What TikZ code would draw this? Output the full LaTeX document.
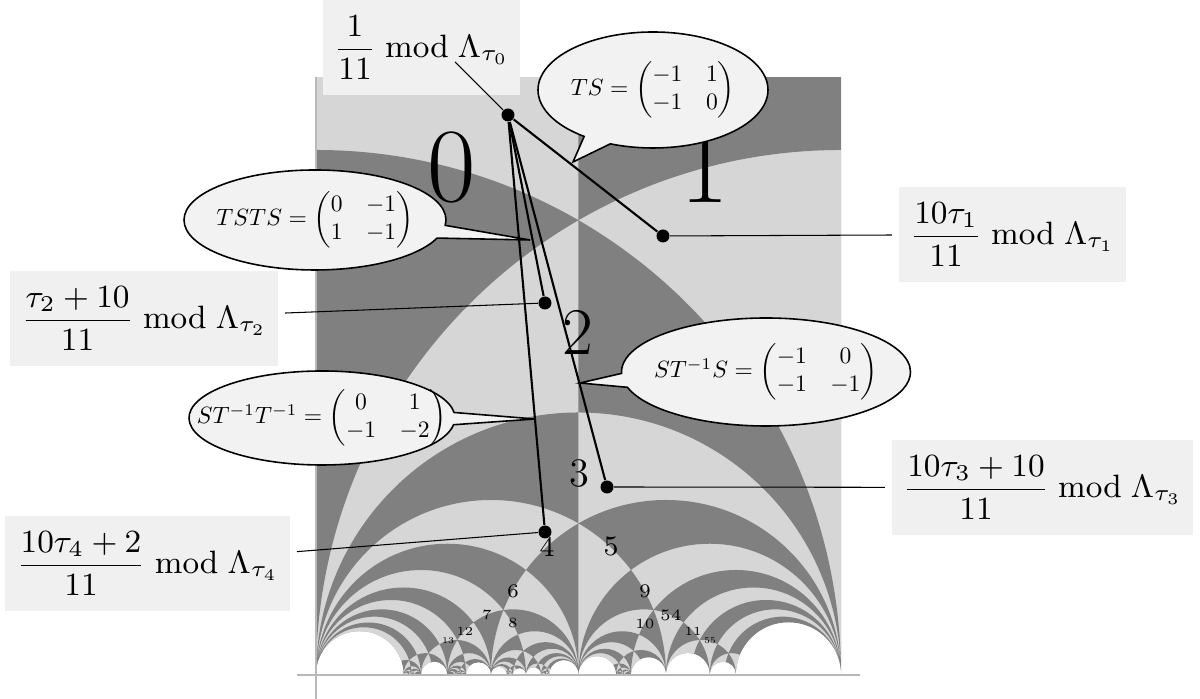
\documentclass[tikz,border=0pt]{standalone}
\usepackage{fix-cm}
\usepackage{amsmath}
\usepackage{graphicx}
\usetikzlibrary{shapes.callouts}
\definecolor{tile-dark}{HTML}{808080}
\definecolor{tile-light}{HTML}{D6D6D6}
\definecolor{box-grey}{HTML}{F0F0F0}
\definecolor{bubble-grey}{HTML}{F2F2F2}
\definecolor{axis-grey}{HTML}{B8B8B8}
\tikzset{
  % Flisene
  tile-odd/.style={fill=tile-dark,even odd rule},
  tile-hole/.style={fill=white},
  axis-line/.style={draw=axis-grey,line width=0.55pt},
  dom-no/.style={inner sep=0pt},
  % Merkelappar
  mod-box/.style={fill=box-grey,inner xsep=3.2pt,inner ysep=4.4pt,outer sep=2pt,font=\fontsize{9.2}{11}\selectfont},
  mat-bubble/.style={ellipse callout,draw,fill=bubble-grey,line width=0.45pt,inner sep=0pt},
  pt/.style={circle,fill=black,inner sep=0pt,minimum size=1.3mm},
  % Kantar
  orbit/.style={line width=0.6pt},
  tag/.style={line width=0.3pt},
}
\newcommand\matlabel[1]{\makebox[0pt]{\scalebox{0.67}{$#1$}}}
\newcommand\mirrorlist{}
\newcommand\maxq{20}

\begin{document}
\begin{tikzpicture}
  \useasboundingbox (-3.16,-0.24) rectangle (8.84,6.75);
  % speglingslinjer p/q -- r/s med |ps-qr| = 1 eller 2
  \foreach \qb in {1,...,\maxq}{
    \foreach \qa in {0,...,\qb}{
      \pgfmathtruncatemacro\qg{gcd(\qa,\qb)}
      \ifnum\qg=1\relax
        \foreach \qd in {1,...,\maxq}{
          \foreach \qk in {1,2}{
            \edef\qn{\the\numexpr\qa*\qd+\qk\relax}
            \edef\qc{\the\numexpr\qn/\qb\relax}
            \ifnum\numexpr\qc*\qb\relax=\qn\relax
              \ifnum\qc>\qd\relax\else
                \ifodd\numexpr(\qc+1)*(\qd+1)\relax\else
                  \pgfmathsetmacro\qx{(\qa*\qd+\qc*\qb)/(2*\qb*\qd)}
                  \pgfmathsetmacro\qr{\qk/(2*\qb*\qd)}
                  \xdef\mirrorlist{\mirrorlist (\qx,0) circle[radius=\qr]}
                \fi
              \fi
            \fi
          }
        }
      \fi
    }
  }
  \begin{scope}[x=5.25cm,y=5.25cm]
    \clip (0,0) rectangle (1,1.139);
    \fill[fill=tile-light] (0,0) rectangle (1,1.139);
    \fill[tile-odd] (0.5,0) rectangle (1,1.139) (0,0) circle[radius=1] (1,0) circle[radius=1] \mirrorlist;
    % ikkje teikna domene
    \foreach \pa/\pb/\pc/\pd in {0/1/1/6,1/5/1/4,2/7/1/3,1/3/4/11,3/8/2/5,2/5/3/7,4/9/1/2,1/2/4/7,3/5/2/3,2/3/3/4,3/4/4/5,4/5/1/1}
      \fill[tile-hole] ({(\pa/\pb+\pc/\pd)/2},0) circle[radius={(\pc/\pd-\pa/\pb)/2}];
  \end{scope}
  \draw[axis-line] (-0.19,0) -- (5.44,0);
  \draw[axis-line] (0,-0.24) -- (0,5.98);

  % nummer på domena
  \node[dom-no,font=\fontsize{30}{30}\selectfont] (n0) at (1.36,5.07) {0};
  \node[dom-no,font=\fontsize{30}{30}\selectfont] (n1) at (3.89,5.07) {1};
  \node[dom-no,font=\fontsize{19}{19}\selectfont] (n2) at (2.62,3.43) {2};
  \node[dom-no,font=\fontsize{11.5}{11.5}\selectfont] (n3) at (2.63,2.02) {3};
  \node[dom-no,font=\fontsize{8}{8}\selectfont] (n4) at (2.31,1.28) {4};
  \node[dom-no,font=\fontsize{8}{8}\selectfont] (n5) at (2.95,1.29) {5};
  \node[dom-no,font=\fontsize{5.5}{5.5}\selectfont] (n6) at (1.97,0.84) {6};
  \node[dom-no,font=\fontsize{5.5}{5.5}\selectfont] (n9) at (3.29,0.84) {9};
  \node[dom-no,font=\fontsize{4}{4}\selectfont] (n7) at (1.71,0.60) {7};
  \node[dom-no,font=\fontsize{4}{4}\selectfont] (n8) at (1.97,0.52) {8};
  \node[dom-no,font=\fontsize{4}{4}\selectfont] (n10) at (3.29,0.51) {10};
  \node[dom-no,font=\fontsize{4.5}{4.5}\selectfont] (n54) at (3.55,0.60) {54};
  \node[dom-no,font=\fontsize{3.5}{3.5}\selectfont] (n12) at (1.49,0.44) {12};
  \node[dom-no,font=\fontsize{3.5}{3.5}\selectfont] (n11) at (3.77,0.44) {11};
  \node[dom-no,font=\fontsize{2.5}{2.5}\selectfont] (n13) at (1.32,0.34) {13};
  \node[dom-no,font=\fontsize{2.5}{2.5}\selectfont] (n55) at (3.94,0.34) {55};

  % boksar
  \node[mod-box] (b0) at (1.055,6.275) {$\dfrac{1}{11} \bmod \Lambda_{\tau_0}$};
  \node[mod-box] (b1) at (6.965,4.405) {$\dfrac{10\tau_1}{11} \bmod \Lambda_{\tau_1}$};
  \node[mod-box] (b2) at (-1.72,3.565) {$\dfrac{\tau_2+10}{11} \bmod \Lambda_{\tau_2}$};
  \node[mod-box] (b3) at (7.265,1.875) {$\dfrac{10\tau_3+10}{11} \bmod \Lambda_{\tau_3}$};
  \node[mod-box] (b4) at (-1.685,1.115) {$\dfrac{10\tau_4+2}{11} \bmod \Lambda_{\tau_4}$};

  % bobler
  \coordinate (p0) at (2.57,5.13);
  \coordinate (p1) at (2.14,4.35);
  \coordinate (p2) at (2.64,2.92);
  \coordinate (p3) at (2.19,2.56);
  \node[mat-bubble,minimum width=2.30cm,minimum height=1.16cm,callout absolute pointer=(p0)] (c0) at (3.37,5.85)
    {\matlabel{TS = \begin{pmatrix}-1&1\\-1&0\end{pmatrix}}};
  \node[mat-bubble,minimum width=2.62cm,minimum height=1.00cm,callout absolute pointer=(p1)] (c1) at (-0.01,4.55)
    {\matlabel{TSTS = \begin{pmatrix}0&-1\\1&-1\end{pmatrix}}};
  \node[mat-bubble,minimum width=2.89cm,minimum height=1.08cm,callout absolute pointer=(p2)] (c2) at (4.50,3.03)
    {\matlabel{ST^{-1}S = \begin{pmatrix}-1&0\\-1&-1\end{pmatrix}}};
  \node[mat-bubble,minimum width=2.66cm,minimum height=0.94cm,callout absolute pointer=(p3)] (c3) at (0.06,2.57)
    {\matlabel{ST^{-1}T^{-1} = \begin{pmatrix}0&1\\-1&-2\end{pmatrix}}};

  % punkt
  \node[pt] (d0) at (1.92,5.60) {};
  \node[pt] (d1) at (3.47,4.39) {};
  \node[pt] (d2) at (2.29,3.72) {};
  \node[pt] (d3) at (2.91,1.88) {};
  \node[pt] (d4) at (2.29,1.43) {};
  \coordinate (t0) at (1.39,6.13);

  \draw[tag] (t0) -- (d0);
  \draw[orbit] (d0) -- (d1);
  \draw[orbit] (d0) -- (d2);
  \draw[orbit] (d0) -- (d3);
  \draw[orbit] (d0) -- (d4);
  \draw[tag] (d1) -- (b1);
  \draw[tag] (d2) -- (b2);
  \draw[tag] (d3) -- (b3);
  \draw[tag] (d4) -- (b4);
\end{tikzpicture}
\end{document}
